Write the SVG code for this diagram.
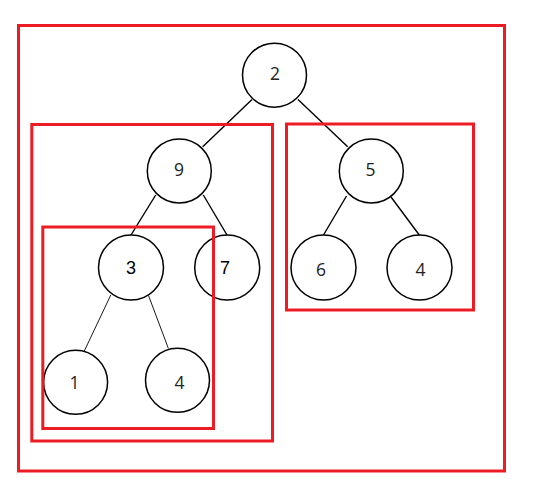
<svg xmlns="http://www.w3.org/2000/svg" width="538" height="495" viewBox="0 0 538 495">
  <style>
    .node circle { fill: #ffffff; stroke: #000000; stroke-width: 1.5; }
    .node text { font-family: "Open Sans", "Noto Sans", sans-serif; font-size: 17.5px; fill: #222222; text-anchor: middle; }
    .node text.alt { font-family: "Liberation Sans", Arial, sans-serif; font-size: 18px; fill: #000000; }
    .edge { stroke: #000000; stroke-width: 1.4; fill: none; }
    .edge.thin { stroke-width: 0.9; }
    .frame { fill: none; stroke: #ed1c24; stroke-width: 3; }
  </style>
  <rect width="538" height="495" fill="#ffffff"/>
  <g id="connectors">
    <line class="edge" x1="252" y1="99.5" x2="202.7" y2="146.7"/>
    <line class="edge" x1="298" y1="99.5" x2="347.7" y2="146.7"/>
    <line class="edge" x1="155.7" y1="195" x2="131" y2="235"/>
    <line class="edge" x1="203.3" y1="195" x2="227" y2="235"/>
    <line class="edge" x1="346.5" y1="196" x2="323.5" y2="235"/>
    <line class="edge" x1="391" y1="197" x2="419.3" y2="235"/>
    <line class="edge thin" x1="110.8" y1="295" x2="84.3" y2="351"/>
    <line class="edge thin" x1="148.5" y1="295.5" x2="168.4" y2="348.5"/>
  </g>
  <g id="node-2" class="node"><circle cx="274.5" cy="75.2" r="32"/><text x="275" y="80.3">2</text></g>
  <g id="node-9" class="node"><circle cx="179.3" cy="171" r="32"/><text x="179" y="176.3">9</text></g>
  <g id="node-5" class="node"><circle cx="371.3" cy="171" r="32"/><text x="370.5" y="176.3">5</text></g>
  <g id="node-3" class="node"><circle cx="131" cy="267.5" r="32.5"/><text class="alt" x="131" y="273.5">3</text></g>
  <g id="node-7" class="node"><circle cx="227.2" cy="267.5" r="32.5"/><text class="alt" x="225" y="273.5">7</text></g>
  <g id="node-6" class="node"><circle cx="323.5" cy="267.5" r="32.5"/><text x="321" y="275.5">6</text></g>
  <g id="node-4a" class="node"><circle cx="419.5" cy="267.5" r="32.5"/><text x="420.5" y="275.7">4</text></g>
  <g id="node-1" class="node"><circle cx="75.6" cy="382.3" r="32"/><text x="74.5" y="388.5">1</text></g>
  <g id="node-4b" class="node"><circle cx="177.5" cy="380.3" r="32"/><text x="179.4" y="389.2">4</text></g>
  <g id="frames">
    <rect class="frame" x="18.5" y="25.5" width="486" height="445.5"/>
    <rect class="frame" x="31.8" y="124.5" width="240.7" height="316.5"/>
    <rect class="frame" x="286.5" y="124" width="187" height="186"/>
    <rect class="frame" x="42.8" y="227" width="170.7" height="201.5"/>
  </g>
</svg>
